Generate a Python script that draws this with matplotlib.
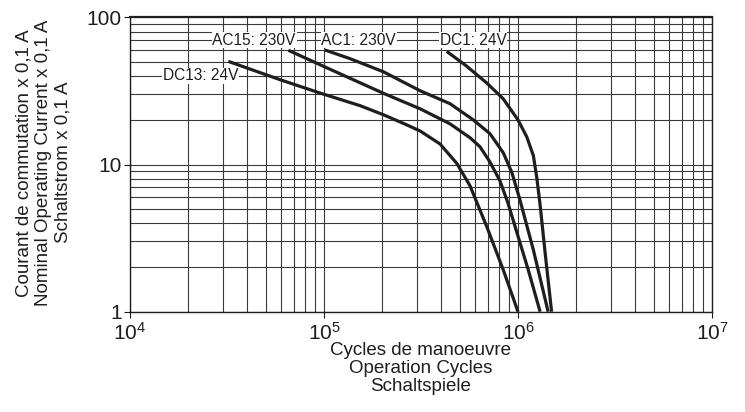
import matplotlib
matplotlib.use("Agg")
import matplotlib.pyplot as plt
from matplotlib.ticker import LogLocator, NullFormatter

plt.rcParams['font.family'] = ['Liberation Sans', 'DejaVu Sans']
plt.rcParams['mathtext.fontset'] = 'custom'
plt.rcParams['mathtext.rm'] = 'Liberation Sans'
plt.rcParams['mathtext.it'] = 'Liberation Sans:italic'

# Lebensdauerkurven (Schaltspiele / Schaltstrom x 0,1 A)
dc13_x = [3.21e4, 5.93e4, 9.53e4, 1.535e5, 2.02e5, 2.62e5, 3.13e5, 3.96e5,
          4.83e5, 5.66e5, 6.90e5, 8.40e5, 1.0e6]
dc13_y = [50.2, 37.7, 30.6, 25.1, 21.8, 18.8, 16.9, 13.8, 10.2, 7.16, 3.79, 1.92, 1.0]

ac15_x = [6.55e4, 1.03e5, 2.02e5, 3.13e5, 4.46e5, 5.66e5, 6.37e5, 7.17e5,
          8.07e5, 8.87e5, 9.85e5, 1.13e6, 1.30e6]
ac15_y = [59.7, 45.5, 30.5, 23.9, 18.9, 15.2, 13.2, 10.4, 7.75, 5.49, 3.48, 1.92, 1.0]

ac1_x = [1.01e5, 1.36e5, 2.02e5, 3.13e5, 4.46e5, 5.88e5, 7.17e5, 8.40e5,
         9.31e5, 1.02e6, 1.20e6, 1.43e6]
ac1_y = [60.0, 52.4, 42.7, 31.7, 25.9, 20.1, 16.2, 12.0, 8.78, 5.84, 2.63, 1.0]

dc1_x = [4.29e5, 5.40e5, 6.90e5, 8.38e5, 1.0e6, 1.11e6, 1.20e6, 1.25e6,
         1.30e6, 1.38e6, 1.49e6]
dc1_y = [58.7, 46.9, 35.8, 28.0, 20.1, 15.4, 11.5, 8.12, 5.32, 2.51, 1.0]

kurven = [(dc13_x, dc13_y), (ac15_x, ac15_y), (ac1_x, ac1_y), (dc1_x, dc1_y)]

# Beschriftungen der Kurven (Text, x, y)
labels = [("DC13: 24V", 2.31e4, 40),
          ("AC15: 230V", 4.36e4, 70),
          ("AC1: 230V", 1.51e5, 70),
          ("DC1: 24V", 5.88e5, 70)]

xticks = [1e4, 1e5, 1e6, 1e7]
xticklabels = [r'$\mathregular{10^4}$', r'$\mathregular{10^5}$',
               r'$\mathregular{10^6}$', r'$\mathregular{10^7}$']
yticks = [1, 10, 100]
yticklabels = ['1', '10', '100']

fig = plt.figure(figsize=(7.45, 4.12), dpi=100)
ax = fig.add_axes([0.1745, 0.2434, 0.7812, 0.7146])

ax.set_xscale('log')
ax.set_yscale('log')
ax.set_xlim(1e4, 1e7)
ax.set_ylim(1, 100)

ax.xaxis.set_minor_locator(LogLocator(base=10, subs=range(2, 10)))
ax.yaxis.set_minor_locator(LogLocator(base=10, subs=range(2, 10)))
ax.xaxis.set_minor_formatter(NullFormatter())
ax.yaxis.set_minor_formatter(NullFormatter())

ax.grid(True, which='both', color='#3a3a3a', linewidth=0.8, zorder=0)
ax.set_axisbelow(True)

for x, y in kurven:
    ax.plot(x, y, color='#1e1e1e', linewidth=2.3, solid_joinstyle='round',
            solid_capstyle='butt', zorder=3)

for txt, x, y in labels:
    ax.text(x, y, txt, fontsize=11.2, ha='center', va='center', color='#1e1e1e',
            bbox=dict(facecolor='white', edgecolor='none', pad=0.6), zorder=4)

ax.set_xticks(xticks)
ax.set_xticklabels(xticklabels)
ax.set_yticks(yticks)
ax.set_yticklabels(yticklabels)
ax.tick_params(which='major', direction='out', length=4, width=0.8,
               labelsize=15, colors='#1e1e1e')
ax.tick_params(axis='x', which='major', pad=3.5)
ax.tick_params(axis='y', which='major', pad=2)
ax.tick_params(which='minor', length=0)

for side in ['left', 'bottom', 'right']:
    ax.spines[side].set_linewidth(1.0)
    ax.spines[side].set_color('#1e1e1e')
ax.spines['top'].set_linewidth(1.6)
ax.spines['top'].set_color('#1e1e1e')

fig.text(0.5651, 0.106, "Cycles de manoeuvre\nOperation Cycles\nSchaltspiele",
         ha='center', va='center', fontsize=13.5, linespacing=1.1,
         color='#1e1e1e')
fig.text(0.058, 0.605, "Courant de commutation x 0,1 A\nNominal Operating Current x 0,1 A\nSchaltstrom x 0,1 A",
         ha='center', va='center', rotation=90, fontsize=13.5, linespacing=1.2,
         color='#1e1e1e')

fig.savefig('out.png', dpi=100)
